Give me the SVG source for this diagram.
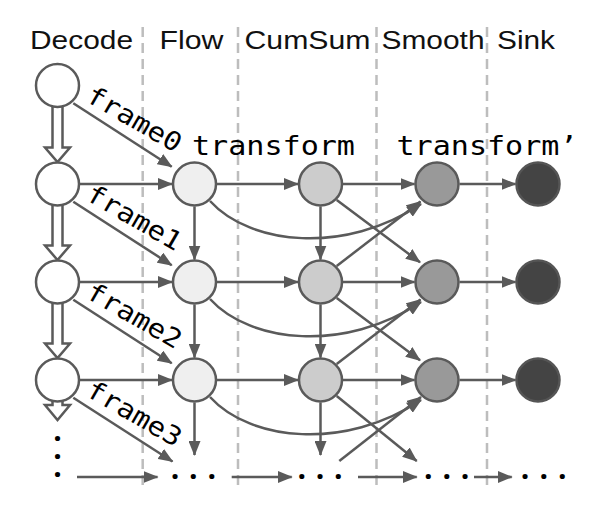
<svg xmlns="http://www.w3.org/2000/svg" width="607" height="511" viewBox="0 0 607 511">
<style>
.hdr{font-family:"Liberation Sans",Arial,sans-serif;font-size:26.5px;fill:#111}
.mono{font-family:"DejaVu Sans Mono","Liberation Mono",monospace;font-size:27px;fill:#000}
.fr{font-family:"DejaVu Sans Mono","Liberation Mono",monospace;font-size:26px;fill:#000}
.dots{font-family:"Open Sans","Noto Sans",sans-serif;font-weight:bold;font-size:30px;fill:#000;text-anchor:middle}
.sep{stroke:#bdbdbd;stroke-width:2.5;stroke-dasharray:10 6;fill:none}
.e{stroke:#5a5a5a;stroke-width:2.5;fill:none;marker-end:url(#ah)}
.blk{stroke:#5a5a5a;stroke-width:2.5;fill:#fff;stroke-linejoin:miter}
.n{stroke:#5a5a5a;stroke-width:2.5}
.dec{fill:#fff}.flow{fill:#efefef}.cum{fill:#cccccc}.smo{fill:#999999}
.snk{fill:#444444;stroke:#555555;stroke-width:2.5}
</style>
<defs>
<marker id="ah" markerWidth="15" markerHeight="12" refX="14" refY="6" orient="auto" markerUnits="userSpaceOnUse">
<path d="M0,0 L15,6 L0,12 z" fill="#5a5a5a"/>
</marker>
</defs>
<rect width="607" height="511" fill="#fff"/>
<g id="separators">
<line class="sep" x1="142.7" y1="27" x2="142.7" y2="487"/>
<line class="sep" x1="238" y1="27" x2="238" y2="487"/>
<line class="sep" x1="376.5" y1="27" x2="376.5" y2="487"/>
<line class="sep" x1="487" y1="27" x2="487" y2="487"/>
</g>
<g id="headers">
<text class="hdr" x="30" y="48.5" textLength="103" lengthAdjust="spacingAndGlyphs">Decode</text>
<text class="hdr" x="159.5" y="48.5" textLength="64" lengthAdjust="spacingAndGlyphs">Flow</text>
<text class="hdr" x="244.5" y="48.5" textLength="126" lengthAdjust="spacingAndGlyphs">CumSum</text>
<text class="hdr" x="381.5" y="48.5" textLength="103" lengthAdjust="spacingAndGlyphs">Smooth</text>
<text class="hdr" x="497" y="48.5" textLength="58" lengthAdjust="spacingAndGlyphs">Sink</text>
</g>
<g id="labels">
<text class="mono" x="192" y="155" textLength="163" lengthAdjust="spacingAndGlyphs">transform</text>
<text class="mono" x="396.5" y="155" textLength="181" lengthAdjust="spacingAndGlyphs">transform’</text>
</g>
<g id="connectors">
<polygon class="blk" points="52.5,100 52.5,147.5 45,147.5 57.5,162 70,147.5 62.5,147.5 62.5,100"/>
<polygon class="blk" points="52.5,198 52.5,245.5 45,245.5 57.5,260 70,245.5 62.5,245.5 62.5,198"/>
<polygon class="blk" points="52.5,296 52.5,343.5 45,343.5 57.5,358 70,343.5 62.5,343.5 62.5,296"/>
<polygon class="blk" points="52.5,394 52.5,405 45,405 57.5,420 70,405 62.5,405 62.5,394"/>
<path class="e" d="M80,184 H172"/>
<path class="e" d="M80,282 H172"/>
<path class="e" d="M80,380 H172"/>
<path class="e" d="M217,184 H298"/>
<path class="e" d="M217,282 H298"/>
<path class="e" d="M217,380 H298"/>
<path class="e" d="M343,184 H414.5"/>
<path class="e" d="M343,282 H414.5"/>
<path class="e" d="M343,380 H414.5"/>
<path class="e" d="M459.5,184 H515.5"/>
<path class="e" d="M459.5,282 H515.5"/>
<path class="e" d="M459.5,380 H515.5"/>
<path class="e" d="M194.5,206.5 V259.5"/>
<path class="e" d="M194.5,304.5 V357.5"/>
<path class="e" d="M194.5,402.5 V455"/>
<path class="e" d="M320.5,206.5 V259.5"/>
<path class="e" d="M320.5,304.5 V357.5"/>
<path class="e" d="M320.5,402.5 V455"/>
<path class="e" d="M73.3,103.3 L171.7,166.7"/>
<path class="e" d="M73.3,201.8 L171.7,265.2"/>
<path class="e" d="M73.3,299.8 L171.7,363.2"/>
<path class="e" d="M73.3,397.8 L172.5,461.5"/>
<path class="e" d="M336.7,200 L420,262.3"/>
<path class="e" d="M336.7,298 L420,360.3"/>
<path class="e" d="M336.7,396 L416.7,461"/>
<path class="e" d="M336.7,266 L420.5,201.5"/>
<path class="e" d="M336.7,364 L420.5,299.5"/>
<path class="e" d="M339.3,461 L421,397"/>
<path class="e" d="M210,201 C250,245 345,255 421,204"/>
<path class="e" d="M210,299 C250,343 345,353 421,302"/>
<path class="e" d="M210,397 C250,441 345,451 421,400"/>
<path class="e" d="M77,477 H157.5"/>
<path class="e" d="M231.7,477 H291.7"/>
<path class="e" d="M358,477 H416.7"/>
<path class="e" d="M474,477 H511.7"/>
</g>
<g id="frame-labels">
<text class="fr" transform="translate(84.5,100.5) rotate(30)" textLength="105" lengthAdjust="spacingAndGlyphs">frame0</text>
<text class="fr" transform="translate(84.5,199) rotate(30)" textLength="105" lengthAdjust="spacingAndGlyphs">frame1</text>
<text class="fr" transform="translate(84.5,297) rotate(30)" textLength="105" lengthAdjust="spacingAndGlyphs">frame2</text>
<text class="fr" transform="translate(84.5,395) rotate(30)" textLength="105" lengthAdjust="spacingAndGlyphs">frame3</text>
</g>
<g id="decode-0"><circle class="n dec" cx="57.5" cy="85.5" r="21.5"/></g>
<g id="decode-1"><circle class="n dec" cx="57.5" cy="184" r="21.5"/></g>
<g id="decode-2"><circle class="n dec" cx="57.5" cy="282" r="21.5"/></g>
<g id="decode-3"><circle class="n dec" cx="57.5" cy="380" r="21.5"/></g>
<g id="flow-1"><circle class="n flow" cx="194.5" cy="184" r="21.5"/></g>
<g id="flow-2"><circle class="n flow" cx="194.5" cy="282" r="21.5"/></g>
<g id="flow-3"><circle class="n flow" cx="194.5" cy="380" r="21.5"/></g>
<g id="cumsum-1"><circle class="n cum" cx="320.5" cy="184" r="21.5"/></g>
<g id="cumsum-2"><circle class="n cum" cx="320.5" cy="282" r="21.5"/></g>
<g id="cumsum-3"><circle class="n cum" cx="320.5" cy="380" r="21.5"/></g>
<g id="smooth-1"><circle class="n smo" cx="437" cy="184" r="21.5"/></g>
<g id="smooth-2"><circle class="n smo" cx="437" cy="282" r="21.5"/></g>
<g id="smooth-3"><circle class="n smo" cx="437" cy="380" r="21.5"/></g>
<g id="sink-1"><circle class="snk" cx="538" cy="184" r="21.5"/></g>
<g id="sink-2"><circle class="snk" cx="538" cy="282" r="21.5"/></g>
<g id="sink-3"><circle class="snk" cx="538" cy="380" r="21.5"/></g>
<g id="ellipses">
<text class="dots" x="57.5 57.5 57.5" y="440.5 458.9 477.2">...</text>
<text class="dots" x="175 193.3 211.7" y="478.8">...</text>
<text class="dots" x="301.7 320 338.3" y="478.8">...</text>
<text class="dots" x="428.3 446.7 465" y="478.8">...</text>
<text class="dots" x="525 543.7 562.3" y="478.8">...</text>
</g>
</svg>
